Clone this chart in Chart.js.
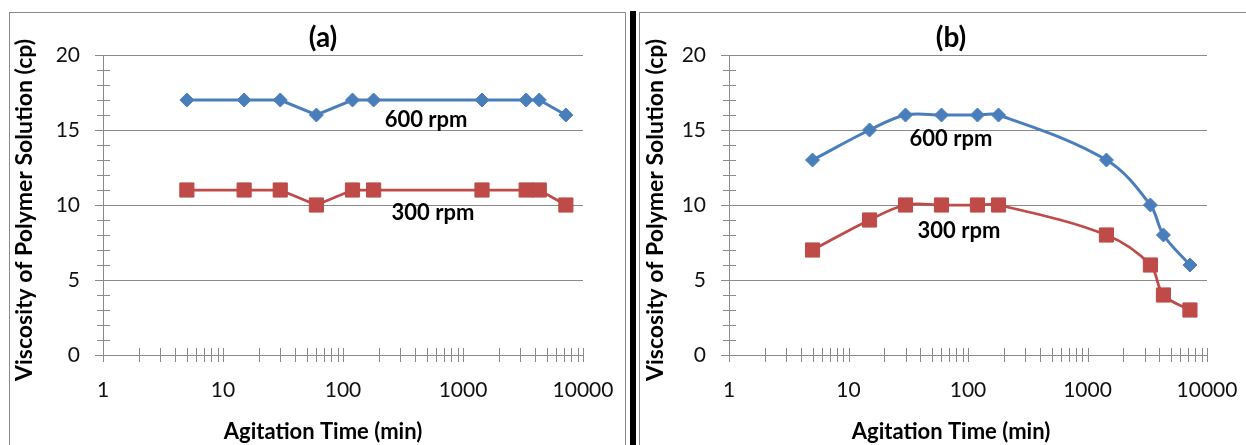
<!DOCTYPE html>
<html>
<head>
<meta charset="utf-8">
<script src="https://cdn.jsdelivr.net/npm/chart.js@4"></script>
<style>
  html, body { margin: 0; padding: 0; background: #fff; }
  body { width: 1246px; height: 445px; position: relative; overflow: hidden; }
  .panel { position: absolute; top: 12px; height: 450px; border: 1px solid #8a8a8a; box-sizing: border-box; }
  #panelA { left: 9px; width: 617px; }
  #panelB { left: 639px; width: 640px; }
  #divider { position: absolute; left: 630px; top: 11px; width: 6px; height: 440px; background: #000; }
  canvas { position: absolute; top: 13px; }
  #chartA { left: 10px; }
  #chartB { left: 640px; }
</style>
</head>
<body>
<div class="panel" id="panelA"></div>
<div id="divider"></div>
<div class="panel" id="panelB"></div>
<canvas id="chartA" width="614" height="432"></canvas>
<canvas id="chartB" width="606" height="432"></canvas>
<script>
'use strict';

// agitation time (min)
const times  = [5, 15, 30, 60, 120, 180, 1440, 3360, 4320, 7200];
// viscosity (cp)
const a600 = [17, 17, 17, 16, 17, 17, 17, 17, 17, 16];
const a300 = [11, 11, 11, 10, 11, 11, 11, 11, 11, 10];
const b600 = [13, 15, 16, 16, 16, 16, 13, 10, 8, 6];
const b300 = [7, 9, 10, 10, 10, 10, 8, 6, 4, 3];

const xTicks = [1, 10, 100, 1000, 10000];
const yTicks = [0, 5, 10, 15, 20];

const FONT = 'Lato, "Open Sans", sans-serif';
const BLUE = '#4a7ebb';
const RED  = '#be4b48';
const AXIS = '#8a8a8a';

const toPoints = (vals) => vals.map((v, i) => ({ x: times[i], y: v }));

// minor ticks, titles and in-plot labels
const decor = {
  id: 'decor',
  afterDraw(chart, args, opts) {
    const { ctx, chartArea: ca } = chart;
    const { x, y } = chart.scales;
    ctx.save();
    ctx.strokeStyle = AXIS;
    ctx.lineWidth = 1;
    ctx.beginPath();
    for (let v = 1; v < 20; v++) {
      if (v % 5 === 0) continue;
      const py = Math.round(y.getPixelForValue(v)) + 0.5;
      ctx.moveTo(ca.left - 6, py);
      ctx.lineTo(ca.left + 7, py);
    }
    for (let d = 1; d <= 10000; d *= 10) {
      for (let k = 1; k <= 9; k++) {
        const v = k * d;
        if (v > 10000) break;
        const px = Math.round(x.getPixelForValue(v)) + 0.5;
        ctx.moveTo(px, ca.bottom - 7);
        ctx.lineTo(px, ca.bottom + 7);
      }
    }
    ctx.stroke();

    ctx.fillStyle = '#000';
    ctx.textAlign = 'center';
    ctx.textBaseline = 'middle';

    ctx.font = 'bold 28px ' + FONT;
    ctx.fillText(opts.title, opts.titleX, 25);

    ctx.font = 'bold 22px ' + FONT;
    ctx.fillText('Agitation Time (min)', opts.titleX, 419);

    ctx.save();
    ctx.translate(opts.yTitleX, 197);
    ctx.rotate(-Math.PI / 2);
    ctx.font = 'bold 23px ' + FONT;
    ctx.fillText('Viscosity of Polymer Solution (cp)', 0, 0);
    ctx.restore();

    ctx.font = 'bold 22px ' + FONT;
    opts.labels.forEach((l) => {
      ctx.fillText(l.text, x.getPixelForValue(l.x), y.getPixelForValue(l.y));
    });
    ctx.restore();
  }
};

function makeChart(id, o) {
  const ctx = document.getElementById(id).getContext('2d');
  return new Chart(ctx, {
    type: 'line',
    data: {
      datasets: [
        {
          data: toPoints(o.s600),
          borderColor: BLUE,
          backgroundColor: BLUE,
          borderWidth: 3,
          pointStyle: 'rectRot',
          pointRadius: 7,
          pointBorderWidth: 1,
          tension: o.tension,
        },
        {
          data: toPoints(o.s300),
          borderColor: RED,
          backgroundColor: RED,
          borderWidth: 2.75,
          pointStyle: 'rect',
          pointRadius: 10,
          pointBorderWidth: 1,
          tension: o.tension,
        },
      ],
    },
    options: {
      responsive: false,
      animation: false,
      events: [],
      layout: { padding: { left: 0, top: 42, right: o.padRight, bottom: 0 } },
      plugins: {
        legend: { display: false },
        tooltip: { enabled: false },
        decor: o.decor,
      },
      scales: {
        x: {
          type: 'logarithmic',
          min: 1,
          max: 10000,
          afterBuildTicks: (s) => { s.ticks = xTicks.map((v) => ({ value: v })); },
          afterFit: (s) => { s.height = 90; s.paddingLeft = 0; s.paddingRight = 0; },
          ticks: {
            callback: (v) => String(v),
            font: { family: FONT, size: 21 },
            color: '#111',
            padding: 23,
            maxRotation: 0,
            autoSkip: false,
          },
          grid: { drawOnChartArea: false, drawTicks: false },
          border: { color: AXIS },
        },
        y: {
          min: 0,
          max: 20,
          afterBuildTicks: (s) => { s.ticks = yTicks.map((v) => ({ value: v })); },
          afterFit: (s) => { s.width = o.yWidth; s.paddingTop = 0; s.paddingBottom = 0; },
          ticks: {
            font: { family: FONT, size: 21 },
            color: '#111',
            padding: 15,
          },
          grid: { color: AXIS, tickLength: 8 },
          border: { color: AXIS },
        },
      },
    },
    plugins: [decor],
  });
}

makeChart('chartA', {
  s600: a600, s300: a300, tension: 0, yWidth: 93, padRight: 41,
  decor: {
    title: '(a)', titleX: 313, yTitleX: 15,
    labels: [
      { text: '600 rpm', x: 492, y: 15.7 },
      { text: '300 rpm', x: 562, y: 9.47 },
    ],
  },
});

makeChart('chartB', {
  s600: b600, s300: b300, tension: 0.35, yWidth: 89, padRight: 39,
  decor: {
    title: '(b)', titleX: 311, yTitleX: 16,
    labels: [
      { text: '600 rpm', x: 72, y: 14.4 },
      { text: '300 rpm', x: 84, y: 8.27 },
    ],
  },
});
</script>
</body>
</html>
